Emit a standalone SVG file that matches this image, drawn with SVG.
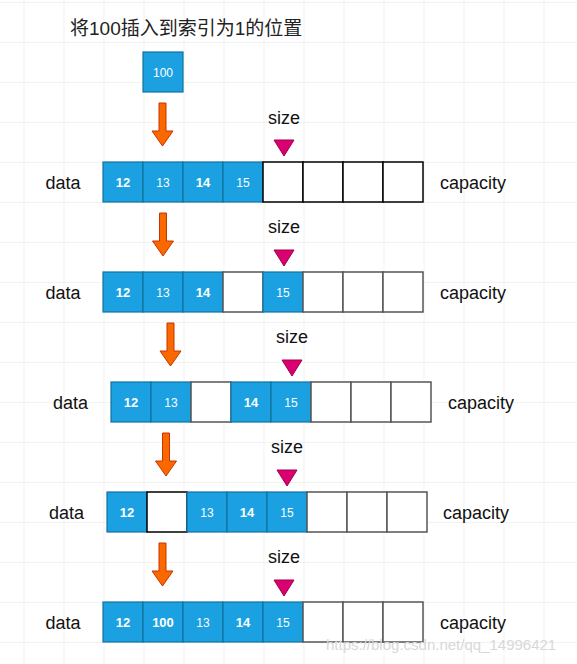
<svg xmlns="http://www.w3.org/2000/svg" width="577" height="664" viewBox="0 0 577 664">
<style>
.lbl{font-family:"Liberation Sans",Arial,sans-serif;font-size:18px;fill:#111}
.sz{font-family:"Liberation Sans",Arial,sans-serif;font-size:18px;fill:#111;text-anchor:middle}
.title{font-family:"Liberation Sans","Noto Sans CJK SC",sans-serif;font-size:19px;fill:#222}
.b{fill:#1ba1e2;stroke:#10739e;stroke-width:1.2}
.w{fill:#fff;stroke:#555;stroke-width:1.5}
.w1{fill:#fff;stroke:#000;stroke-width:1.5}
.n{font-family:"Liberation Sans",Arial,sans-serif;font-size:12px;fill:#fff;text-anchor:middle}
.nb{font-family:"Liberation Sans",Arial,sans-serif;font-size:13px;font-weight:bold;fill:#fff;text-anchor:middle}
.arr{fill:#fa6800;stroke:#c73500;stroke-width:1}
.tri{fill:#d80073;stroke:#a50040;stroke-width:1}
.wm{font-family:"Liberation Sans",Arial,sans-serif;font-size:15px;fill:#d8d8d8}
</style>
<defs>
<pattern id="grid" x="23.5" y="2" width="40" height="40" patternUnits="userSpaceOnUse">
<path d="M0 0 H40 M0 0 V40" fill="none" stroke="#e6e6e6" stroke-width="1"/>
</pattern>
<path id="arrow" d="M-3.5 0 H3.5 V28 H10.5 L0 43 L-10.5 28 H-3.5 Z"/>
<path id="tri" d="M0 0 H20 L10 16 Z"/>
</defs>
<rect width="577" height="664" fill="#fff"/>
<rect width="577" height="664" fill="url(#grid)"/>

<text class="title" x="70" y="35">将100插入到索引为1的位置</text>

<g id="node-100">
<rect class="b" x="143" y="52" width="40" height="40"/>
<text class="n" x="163" y="77">100</text>
</g>

<g id="connectors">
<use href="#arrow" class="arr" x="162.5" y="103"/>
<use href="#arrow" class="arr" x="163" y="213"/>
<use href="#arrow" class="arr" x="170.5" y="323"/>
<use href="#arrow" class="arr" x="166" y="433"/>
<use href="#arrow" class="arr" x="162.5" y="543"/>
</g>

<g id="row1">
<text class="lbl" x="45.5" y="189">data</text>
<text class="sz" x="284" y="124">size</text>
<use href="#tri" class="tri" x="274" y="140"/>
<rect class="b" x="103" y="162" width="40" height="40"/>
<rect class="b" x="143" y="162" width="40" height="40"/>
<rect class="b" x="183" y="162" width="40" height="40"/>
<rect class="b" x="223" y="162" width="40" height="40"/>
<rect class="w1" x="263" y="162" width="40" height="40"/>
<rect class="w1" x="303" y="162" width="40" height="40"/>
<rect class="w1" x="343" y="162" width="40" height="40"/>
<rect class="w1" x="383" y="162" width="40" height="40"/>
<text class="nb" x="123" y="187">12</text>
<text class="n" x="163" y="187">13</text>
<text class="nb" x="203" y="187">14</text>
<text class="n" x="243" y="187">15</text>
<text class="lbl" x="440" y="189">capacity</text>
</g>

<g id="row2">
<text class="lbl" x="45.5" y="299">data</text>
<text class="sz" x="284" y="233">size</text>
<use href="#tri" class="tri" x="274" y="250"/>
<rect class="b" x="103" y="272" width="40" height="40"/>
<rect class="b" x="143" y="272" width="40" height="40"/>
<rect class="b" x="183" y="272" width="40" height="40"/>
<rect class="w" x="223" y="272" width="40" height="40"/>
<rect class="b" x="263" y="272" width="40" height="40"/>
<rect class="w" x="303" y="272" width="40" height="40"/>
<rect class="w" x="343" y="272" width="40" height="40"/>
<rect class="w" x="383" y="272" width="40" height="40"/>
<text class="nb" x="123" y="297">12</text>
<text class="n" x="163" y="297">13</text>
<text class="nb" x="203" y="297">14</text>
<text class="n" x="283" y="297">15</text>
<text class="lbl" x="440" y="299">capacity</text>
</g>

<g id="row3">
<text class="lbl" x="53" y="409">data</text>
<text class="sz" x="292" y="343">size</text>
<use href="#tri" class="tri" x="282" y="360"/>
<rect class="b" x="111" y="382" width="40" height="40"/>
<rect class="b" x="151" y="382" width="40" height="40"/>
<rect class="w" x="191" y="382" width="40" height="40"/>
<rect class="b" x="231" y="382" width="40" height="40"/>
<rect class="b" x="271" y="382" width="40" height="40"/>
<rect class="w" x="311" y="382" width="40" height="40"/>
<rect class="w" x="351" y="382" width="40" height="40"/>
<rect class="w" x="391" y="382" width="40" height="40"/>
<text class="nb" x="131" y="407">12</text>
<text class="n" x="171" y="407">13</text>
<text class="nb" x="251" y="407">14</text>
<text class="n" x="291" y="407">15</text>
<text class="lbl" x="448" y="409">capacity</text>
</g>

<g id="row4">
<text class="lbl" x="49" y="519">data</text>
<text class="sz" x="287" y="453">size</text>
<use href="#tri" class="tri" x="277" y="470"/>
<rect class="b" x="107" y="492" width="40" height="40"/>
<rect class="w1" x="147" y="492" width="40" height="40"/>
<rect class="b" x="187" y="492" width="40" height="40"/>
<rect class="b" x="227" y="492" width="40" height="40"/>
<rect class="b" x="267" y="492" width="40" height="40"/>
<rect class="w" x="307" y="492" width="40" height="40"/>
<rect class="w" x="347" y="492" width="40" height="40"/>
<rect class="w" x="387" y="492" width="40" height="40"/>
<text class="nb" x="127" y="517">12</text>
<text class="n" x="207" y="517">13</text>
<text class="nb" x="247" y="517">14</text>
<text class="n" x="287" y="517">15</text>
<text class="lbl" x="443" y="519">capacity</text>
</g>

<g id="row5">
<text class="lbl" x="45.5" y="629">data</text>
<text class="sz" x="284" y="563">size</text>
<use href="#tri" class="tri" x="274" y="580"/>
<rect class="b" x="103" y="602" width="40" height="40"/>
<rect class="b" x="143" y="602" width="40" height="40"/>
<rect class="b" x="183" y="602" width="40" height="40"/>
<rect class="b" x="223" y="602" width="40" height="40"/>
<rect class="b" x="263" y="602" width="40" height="40"/>
<rect class="w" x="303" y="602" width="40" height="40"/>
<rect class="w" x="343" y="602" width="40" height="40"/>
<rect class="w" x="383" y="602" width="40" height="40"/>
<text class="nb" x="123" y="627">12</text>
<text class="nb" x="163" y="627">100</text>
<text class="n" x="203" y="627">13</text>
<text class="nb" x="243" y="627">14</text>
<text class="n" x="283" y="627">15</text>
<text class="lbl" x="440" y="629">capacity</text>
</g>

<text class="wm" x="326" y="650">https://blog.csdn.net/qq_14996421</text>
</svg>
